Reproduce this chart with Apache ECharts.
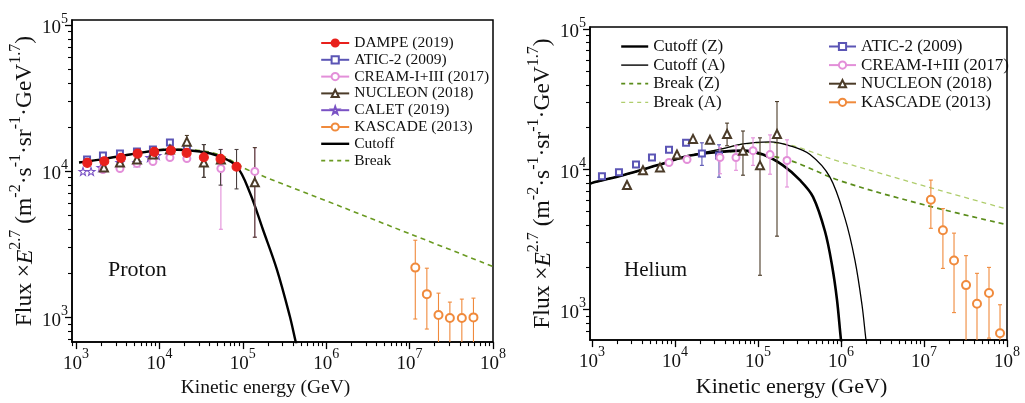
<!DOCTYPE html>
<html>
<head>
<meta charset="utf-8">
<script src="https://cdn.jsdelivr.net/npm/echarts@6.0.0/dist/echarts.min.js"></script>
<style>
html,body{margin:0;padding:0;background:#fff;}
#chart{width:1025px;height:403px;}
</style>
</head>
<body>
<div id="chart"></div>
<script>
// ---------------- DATA ----------------
// Tick labels
const xMajorTicks = [1e3, 1e4, 1e5, 1e6, 1e7, 1e8];
const yMajorTicks = [1e3, 1e4, 1e5];
const minorFactors = [2, 3, 4, 5, 6, 7, 8, 9];

// ---- Proton panel ----
const pCutoff = [[1087,11430],[1936,11970],[4436,12970],[13370,14030],[30550,13600],[53100,12560],[84800,10740],[121300,7130],[173800,3990],[255400,2130],[365600,1016],[431500,674],[470000,560]];
const pBreak = [[1087,11430],[1936,11970],[4436,12970],[13370,14100],[30550,13800],[53100,12900],[79400,11480],[112000,10230],[1e6,6250],[1e7,3720],[1e8,2220]];
const pDampe = [[1365,11370],[2183,11670],[3460,12300],[5480,13150],[8670,13520],[13740,13800],[21200,13300],[34100,12410],[54100,12100],[84100,10690]];
const pDampeErr = [[34100,9040,15170],[54100,8000,14030],[84100,7540,14030]];
const pAtic = [[1356,11970],[2104,12770],[3365,13160],[5380,13590],[8360,14030],[13370,15670],[21330,14450]];
const pCream = [[2104,10230],[3365,10400],[5380,11240],[8360,11610],[13370,12360],[21330,12160],[54600,10400],[139300,9930]];
const pCreamErr = [[54600,3990,14030],[139300,3520,14450]];
const pNucleon = [[2163,10570],[3365,11430],[5380,11980],[8360,12970],[13370,14030],[21330,15880],[34100,11430],[54600,11980],[139300,8360]];
const pNucleonErr = [[21330,14030,17500],[34100,9040,15170],[139300,3520,14450]];
const pCalet = [[1213,9930],[1513,9930],[1991,10570],[3365,11430],[5380,11430],[7690,12360],[9330,12770]];
const pKascade = [[1.17e7,2180],[1.61e7,1435],[2.22e7,1032],[3.04e7,985],[4.23e7,985],[5.83e7,995]];
const pKascadeErr = [[1.17e7,970,3357],[1.61e7,828,2160],[2.22e7,600,1458],[3.04e7,600,1266],[4.23e7,600,1327],[5.83e7,600,1348]];

// ---- Helium panel ----
const hCutoffZ = [[946,7900],[1087,8110],[2360,9080],[6070,10670],[15170,12530],[37800,13370],[65900,13580],[114800,12740],[200000,10670],[320500,8370],[460000,6370],[641000,3620],[780000,2065],[895000,1175],[1e6,607],[1.05e6,500]];
const hCutoffA = [[946,7900],[1087,8110],[2360,9080],[6070,10670],[15170,12530],[37800,14030],[65900,15200],[139600,15700],[243000,14720],[423600,12740],[736000,8790],[1.117e6,4470],[1.475e6,2240],[1.79e6,1084],[2.0e6,607],[2.1e6,500]];
const hBreakZ = [[946,7900],[1087,8110],[2360,9080],[6070,10670],[15170,12530],[37800,13370],[65900,13400],[1e5,12880],[243000,11560],[1e6,8250],[1e7,5590],[9.46e7,4060]];
const hBreakA = [[946,7900],[1087,8110],[2360,9080],[6070,10670],[15170,12530],[37800,14030],[65900,15100],[139600,15490],[1e6,11280],[1e7,7620],[9.46e7,5250]];
const hAtic = [[1318,8940],[2113,9530],[3390,10840],[5280,12140],[8470,13800],[13590,15450],[21100,12940],[33900,12540]];
const hAticErr = [[21100,10670,15450],[33900,8790,14960]];
const hCream = [[8470,11190],[13960,11740],[34800,12140],[54300,12140],[87100,13590],[139600,12740],[223600,11560]];
const hCreamErr = [[34800,9300,14300],[54300,9840,14720],[87100,10670,16760],[139600,9230,17590],[223600,7480,16220]];
const hNucleon = [[2640,7730],[4110,9840],[6590,10320],[10560,12740],[16480,16480],[26400,16220],[42400,17860],[65900,13590],[105700,10670],[169400,17860]];
const hNucleonErr = [[42400,14720,21340],[65900,9080,18750],[105700,1758,16760],[169400,3340,30400]];
const hKascade = [[1.21e7,6070],[1.69e7,3680],[2.30e7,2240],[3.21e7,1496],[4.35e7,1101],[6.07e7,1315],[8.24e7,680]];
const hKascadeErr = [[1.21e7,3800,8380],[1.69e7,1968,5250],[2.30e7,953,3510],[3.21e7,500,2426],[4.35e7,500,1815],[6.07e7,627,2001],[8.24e7,500,1084]];

// ---------------- STYLE ----------------
const FONT = 'Liberation Serif';
const C = {
  dampe: '#e8201c', atic: '#5b55b5', cream: '#e38fd9', nucleon: '#4b3b28',
  calet: '#7a52c4', kascade: '#f08a3c', cut: '#000000', brk: '#6a9a22',
  brkZ: '#5a8c1a', brkA: '#afcd6c', err: '#4a4040'
};
const STAR = 'path://M0,-10 L2.35,-3.24 L9.51,-3.09 L3.8,1.24 L5.88,8.09 L0,4 L-5.88,8.09 L-3.8,1.24 L-9.51,-3.09 L-2.35,-3.24 Z';

function minorTicks(lo, hi) {
  const out = [];
  for (let d = -2; d <= 9; d++) {
    for (const f of minorFactors) {
      const v = f * Math.pow(10, d);
      if (v > lo && v < hi) out.push(v);
    }
  }
  return out;
}
function supLabel(v) {
  const e = Math.round(Math.log10(v));
  return '{b|10}{s|' + e + '}';
}
function labelRich(fs) {
  return {
    b: { fontFamily: FONT, fontSize: fs, color: '#111', lineHeight: fs + 7, verticalAlign: 'bottom' },
    s: { fontFamily: FONT, fontSize: Math.round(fs * 0.72), color: '#111', lineHeight: 14, verticalAlign: 'top' }
  };
}
function nameRich(fs) {
  return {
    t: { fontFamily: FONT, fontSize: fs, color: '#111', lineHeight: fs + 6, verticalAlign: 'bottom' },
    i: { fontFamily: FONT, fontSize: fs, color: '#111', fontStyle: 'italic', lineHeight: fs + 6, verticalAlign: 'bottom' },
    s: { fontFamily: FONT, fontSize: Math.round(fs * 0.66), color: '#111', lineHeight: 15, verticalAlign: 'top' }
  };
}
const yName = '{t|Flux ×}{i|E}{s|2.7}{t| (m}{s|-2}{t|·s}{s|-1}{t|·sr}{s|-1}{t|·GeV}{s|1.7}{t|)}';

function axesFor(grid, xr, yr, o) {
  const xs = [
    { gridIndex: grid, type: 'log', logBase: 10, min: xr[0], max: xr[1], position: 'bottom',
      name: 'Kinetic energy (GeV)', nameLocation: 'middle', nameGap: o.xGap,
      nameTextStyle: { fontFamily: FONT, fontSize: o.xNameSize, color: '#111', padding: o.xNamePad },
      axisLine: { show: true, lineStyle: { color: '#000', width: 1.5 } },
      axisTick: { show: true, inside: false, length: 7, customValues: xMajorTicks, lineStyle: { color: '#000', width: 1.3 } },
      axisLabel: { show: true, margin: 5, customValues: xMajorTicks, formatter: supLabel, rich: labelRich(o.tickSize) },
      splitLine: { show: false }, minorTick: { show: false } },
    { gridIndex: grid, type: 'log', logBase: 10, min: xr[0], max: xr[1], position: 'bottom',
      axisLine: { show: false },
      axisTick: { show: true, inside: false, length: 4, customValues: minorTicks(xr[0], xr[1]), lineStyle: { color: '#000', width: 1.1 } },
      axisLabel: { show: false }, splitLine: { show: false } }
  ];
  const ys = [
    { gridIndex: grid, type: 'log', logBase: 10, min: yr[0], max: yr[1], position: 'left',
      name: yName, nameLocation: 'middle', nameGap: o.yGap, nameRotate: 90,
      nameTextStyle: { rich: nameRich(o.yNameSize) },
      axisLine: { show: true, lineStyle: { color: '#000', width: 1.5 } },
      axisTick: { show: true, inside: false, length: 7, customValues: yMajorTicks, lineStyle: { color: '#000', width: 1.3 } },
      axisLabel: { show: true, margin: 4, customValues: yMajorTicks, formatter: supLabel, rich: labelRich(o.tickSize) },
      splitLine: { show: false } },
    { gridIndex: grid, type: 'log', logBase: 10, min: yr[0], max: yr[1], position: 'left',
      axisLine: { show: false },
      axisTick: { show: true, inside: false, length: 4, customValues: minorTicks(yr[0], yr[1]), lineStyle: { color: '#000', width: 1.1 } },
      axisLabel: { show: false }, splitLine: { show: false } }
  ];
  return { xs, ys };
}

const L = axesFor(0, [895, 1e8], [674, 108000], { xGap: 30, xNameSize: 19.5, xNamePad: [0, 34, 0, 0], yGap: 35, yNameSize: 23.5, tickSize: 19 });
const R = axesFor(1, [946, 1e8], [607, 103300], { xGap: 31, xNameSize: 22, xNamePad: [0, 14, 0, 0], yGap: 35, yNameSize: 23.5, tickSize: 19 });

function curve(name, data, g, color, width, dashed) {
  return { name, type: 'line', xAxisIndex: g * 2, yAxisIndex: g * 2, data, smooth: 0.35,
    showSymbol: false, symbol: 'none', silent: true, clip: true, z: 3,
    color: color,
    lineStyle: { color, width, type: dashed ? [5, 4] : 'solid' } };
}
function points(name, data, g, color, symbol, size, fill) {
  return { name, type: 'line', xAxisIndex: g * 2, yAxisIndex: g * 2, data,
    symbol, symbolSize: size, showSymbol: true, silent: true, clip: true, z: 5,
    color: color,
    lineStyle: { color, width: 1.2, opacity: 0 },
    itemStyle: { color: fill || color, borderColor: color, borderWidth: 1.1 } };
}
function errbars(name, data, g, color) {
  return { name, type: 'custom', xAxisIndex: g * 2, yAxisIndex: g * 2, data, silent: true, clip: true, z: 4,
    encode: { x: 0, y: [1, 2] },
    renderItem: function (params, api) {
      const x = api.value(0);
      const a = api.coord([x, api.value(1)]);
      const b = api.coord([x, api.value(2)]);
      const st = { stroke: color, lineWidth: 1.1 };
      return { type: 'group', children: [
        { type: 'line', shape: { x1: a[0], y1: a[1], x2: b[0], y2: b[1] }, style: st },
        { type: 'line', shape: { x1: a[0] - 2, y1: a[1], x2: a[0] + 2, y2: a[1] }, style: st },
        { type: 'line', shape: { x1: b[0] - 2, y1: b[1], x2: b[0] + 2, y2: b[1] }, style: st }
      ] };
    } };
}

const series = [
  // proton
  curve('Break', pBreak, 0, C.brk, 1.6, true),
  curve('Cutoff', pCutoff, 0, C.cut, 2.4, false),
  errbars('e1', pCreamErr, 0, C.cream),
  errbars('e2', pNucleonErr, 0, C.nucleon),
  errbars('e3', pDampeErr, 0, C.err),
  errbars('e4', pKascadeErr, 0, C.kascade),
  points('CALET (2019)', pCalet, 0, C.calet, STAR, 8, '#fff'),
  points('ATIC-2 (2009)', pAtic, 0, C.atic, 'emptyRect', 6),
  points('CREAM-I+III (2017)', pCream, 0, C.cream, 'emptyCircle', 7),
  points('NUCLEON (2018)', pNucleon, 0, C.nucleon, 'emptyTriangle', 8),
  points('KASCADE (2013)', pKascade, 0, C.kascade, 'emptyCircle', 8),
  points('DAMPE (2019)', pDampe, 0, C.dampe, 'circle', 9),
  // helium
  curve('Break (A)', hBreakA, 1, C.brkA, 1.3, true),
  curve('Break (Z)', hBreakZ, 1, C.brkZ, 1.7, true),
  curve('Cutoff (A)', hCutoffA, 1, C.cut, 1.3, false),
  curve('Cutoff (Z)', hCutoffZ, 1, C.cut, 2.6, false),
  errbars('e5', hAticErr, 1, C.atic),
  errbars('e6', hCreamErr, 1, C.cream),
  errbars('e7', hNucleonErr, 1, C.nucleon),
  errbars('e8', hKascadeErr, 1, C.kascade),
  points('ATIC-2 (2009)', hAtic, 1, C.atic, 'emptyRect', 6),
  points('CREAM-I+III (2017)', hCream, 1, C.cream, 'emptyCircle', 7),
  points('NUCLEON (2018)', hNucleon, 1, C.nucleon, 'emptyTriangle', 8),
  points('KASCADE (2013)', hKascade, 1, C.kascade, 'emptyCircle', 8)
];

function lineOnly(name, w, dashed) {
  return { name: name, itemStyle: { opacity: 0 }, lineStyle: { width: w, type: dashed ? [4, 4] : 'solid', opacity: 1 } };
}
const legendText = { fontFamily: FONT, fontSize: 15.5, color: '#111' };
const option = {
  animation: false,
  backgroundColor: '#fff',
  grid: [
    { left: 72, right: 532, top: 20, bottom: 60, show: true, borderColor: '#000', borderWidth: 1.5, backgroundColor: 'transparent', containLabel: false },
    { left: 590, right: 18, top: 27, bottom: 57, show: true, borderColor: '#000', borderWidth: 1.5, backgroundColor: 'transparent', containLabel: false }
  ],
  title: [
    { text: 'Proton', left: 108, top: 259, padding: 0, textStyle: { fontFamily: FONT, fontSize: 22, fontWeight: 'normal', color: '#111' } },
    { text: 'Helium', left: 624, top: 260, padding: 0, textStyle: { fontFamily: FONT, fontSize: 21, fontWeight: 'normal', color: '#111' } }
  ],
  legend: [
    { orient: 'vertical', left: 320, top: 35, padding: 0, itemWidth: 28, itemHeight: 9, itemGap: 0.8,
      textStyle: legendText, lineStyle: { opacity: 1 }, selectedMode: false,
      data: ['DAMPE (2019)', 'ATIC-2 (2009)', 'CREAM-I+III (2017)', 'NUCLEON (2018)', 'CALET (2019)', 'KASCADE (2013)', lineOnly('Cutoff', 2.4), lineOnly('Break', 1.6, true)] },
    { orient: 'vertical', left: 620, top: 38, padding: 0, itemWidth: 27, itemHeight: 9, itemGap: 1.6,
      textStyle: Object.assign({}, legendText, { fontSize: 17 }), lineStyle: { opacity: 1 }, selectedMode: false,
      data: [lineOnly('Cutoff (Z)', 2.4), lineOnly('Cutoff (A)', 1.4), lineOnly('Break (Z)', 1.7, true), lineOnly('Break (A)', 1.3, true)] },
    { orient: 'vertical', left: 828, top: 38, padding: 0, itemWidth: 27, itemHeight: 9, itemGap: 1.6,
      textStyle: Object.assign({}, legendText, { fontSize: 17 }), lineStyle: { opacity: 1 }, selectedMode: false,
      data: ['ATIC-2 (2009)', 'CREAM-I+III (2017)', 'NUCLEON (2018)', 'KASCADE (2013)'] }
  ],
  xAxis: L.xs.concat(R.xs),
  yAxis: L.ys.concat(R.ys),
  series: series
};

const chart = echarts.init(document.getElementById('chart'), null, { renderer: 'canvas' });
chart.setOption(option);
</script>
</body>
</html>
